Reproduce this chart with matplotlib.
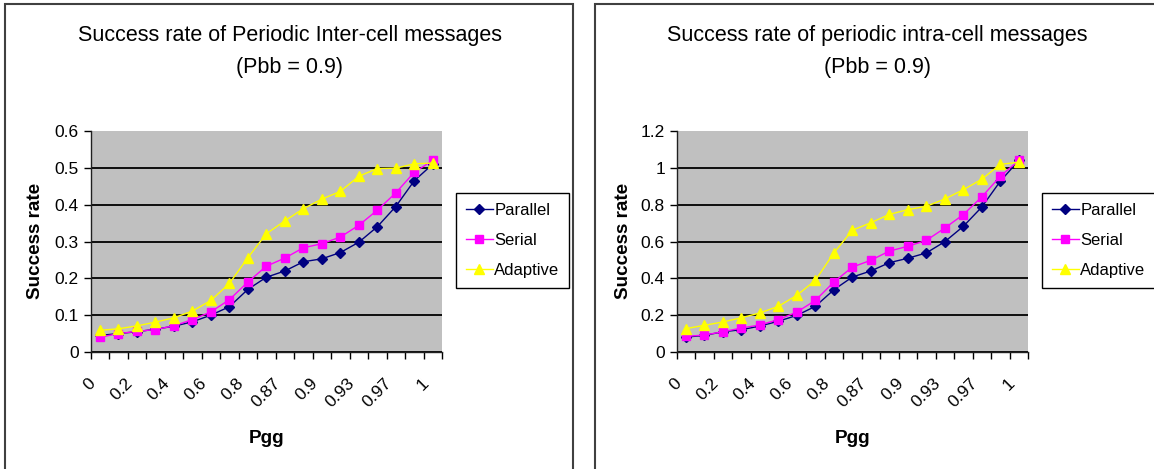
import matplotlib
matplotlib.use('Agg')
import matplotlib.pyplot as plt
import matplotlib.transforms as mtransforms
from matplotlib.patches import Rectangle

plt.rcParams['font.family'] = ['Liberation Sans', 'DejaVu Sans']

# catégories Pgg (19 points, une étiquette sur deux affichée)
pgg = ['0', '0.1', '0.2', '0.3', '0.4', '0.5', '0.6', '0.7', '0.8', '0.85',
       '0.87', '0.88', '0.9', '0.92', '0.93', '0.95', '0.97', '0.99', '1']

# Inter-cell
inter_parallel = [0.045, 0.05, 0.055, 0.062, 0.07, 0.082, 0.1, 0.123, 0.17, 0.203,
                  0.22, 0.245, 0.253, 0.27, 0.298, 0.34, 0.395, 0.465, 0.51]
inter_serial = [0.04, 0.05, 0.056, 0.061, 0.071, 0.088, 0.109, 0.142, 0.19, 0.233,
                0.255, 0.283, 0.294, 0.312, 0.344, 0.385, 0.432, 0.488, 0.52]
inter_adaptive = [0.059, 0.063, 0.071, 0.081, 0.093, 0.111, 0.14, 0.186, 0.256, 0.321,
                  0.356, 0.389, 0.415, 0.436, 0.477, 0.498, 0.499, 0.511, 0.513]

# Intra-cell
intra_parallel = [0.081, 0.09, 0.11, 0.121, 0.141, 0.167, 0.199, 0.248, 0.338, 0.407,
                  0.44, 0.485, 0.509, 0.538, 0.599, 0.682, 0.787, 0.927, 1.04]
intra_serial = [0.085, 0.092, 0.11, 0.13, 0.147, 0.176, 0.217, 0.28, 0.38, 0.461,
                0.498, 0.548, 0.574, 0.606, 0.673, 0.746, 0.842, 0.954, 1.04]
intra_adaptive = [0.127, 0.145, 0.163, 0.186, 0.212, 0.248, 0.308, 0.389, 0.538, 0.661,
                  0.702, 0.747, 0.773, 0.791, 0.831, 0.881, 0.938, 1.019, 1.03]

inter_yticks = [0, 0.1, 0.2, 0.3, 0.4, 0.5, 0.6]
inter_ylabels = ['0', '0.1', '0.2', '0.3', '0.4', '0.5', '0.6']
intra_yticks = [0, 0.2, 0.4, 0.6, 0.8, 1.0, 1.2]
intra_ylabels = ['0', '0.2', '0.4', '0.6', '0.8', '1', '1.2']

series_names = ['Parallel', 'Serial', 'Adaptive']

W, H = 1154, 469
fig = plt.figure(figsize=(W / 100, H / 100), dpi=100)

# cadres des deux graphiques
fig.patches.append(Rectangle((5 / W, -0.05), (573 - 5) / W, 465 / H + 0.05,
                             transform=fig.transFigure, fill=False,
                             edgecolor='#404040', lw=1.5))
fig.patches.append(Rectangle((595 / W, -0.05), 0.5, 465 / H + 0.05,
                             transform=fig.transFigure, fill=False,
                             edgecolor='#404040', lw=1.5))


def draw_chart(x0, x1, title, series, yticks, ylabels, title_x, ylab_x, leg_x):
    ax = fig.add_axes([x0 / W, (H - 352) / H, (x1 - x0) / W, (352 - 131) / H])
    ax.set_facecolor('#C0C0C0')
    x = list(range(len(pgg)))
    ax.plot(x, series[0], color='#000080', marker='D', markersize=5.5, lw=1,
            label=series_names[0])
    ax.plot(x, series[1], color='#FF00FF', marker='s', markersize=6, lw=1,
            label=series_names[1])
    ax.plot(x, series[2], color='#FFFF00', marker='^', markersize=6.5, lw=1,
            label=series_names[2])

    ax.set_xlim(-0.5, len(pgg) - 0.5)
    ax.set_ylim(yticks[0], yticks[-1])
    ax.set_yticks(yticks, labels=ylabels, fontsize=12.5)
    ax.grid(axis='y', color='black', lw=1.3)
    ax.yaxis.get_gridlines()[-1].set_visible(False)
    ax.set_axisbelow(True)

    # graduations entre catégories, étiquettes une sur deux
    ax.set_xticks([i - 0.5 for i in range(len(pgg) + 1)], minor=True)
    ax.set_xticks(x[::2], labels=pgg[::2], fontsize=12.5, rotation=45,
                  ha='right', rotation_mode='anchor')
    ax.tick_params(axis='x', which='major', length=0, pad=17)
    ax.tick_params(axis='x', which='minor', length=5, direction='out', width=1)
    ax.tick_params(axis='y', length=5, direction='out', width=1)
    off = mtransforms.ScaledTranslation(-12 / 100, 0, fig.dpi_scale_trans)
    for lab in ax.get_xticklabels():
        lab.set_transform(lab.get_transform() + off)

    for s in ['top', 'right']:
        ax.spines[s].set_visible(False)
    for s in ['left', 'bottom']:
        ax.spines[s].set_color('#202020')
        ax.spines[s].set_linewidth(1)

    fig.text(title_x / W, 1 - 35 / H, title, ha='center', va='center', fontsize=15.5)
    fig.text(title_x / W, 1 - 67 / H, '(Pbb = 0.9)', ha='center', va='center',
             fontsize=15.5)
    fig.text(ylab_x / W, 1 - 241 / H, 'Success rate', rotation=90, ha='center',
             va='center', fontsize=13.6, fontweight='bold')
    fig.text((x0 + x1) / 2 / W, 1 - 438 / H, 'Pgg', ha='center', va='center',
             fontsize=13.6, fontweight='bold')

    leg = ax.legend(loc='upper left', bbox_to_anchor=(leg_x / W, 1 - 193 / H),
                    bbox_transform=fig.transFigure, borderaxespad=0,
                    fancybox=False, framealpha=1, edgecolor='black',
                    fontsize=12, handlelength=1.6, handletextpad=0.1,
                    labelspacing=0.9, borderpad=0.6)
    leg.get_frame().set_linewidth(1)
    return ax


draw_chart(90.7, 442, 'Success rate of Periodic Inter-cell messages',
           [inter_parallel, inter_serial, inter_adaptive],
           inter_yticks, inter_ylabels, 290, 36, 456)
draw_chart(676.7, 1028, 'Success rate of periodic intra-cell messages',
           [intra_parallel, intra_serial, intra_adaptive],
           intra_yticks, intra_ylabels, 877, 624, 1042)

fig.savefig('out.png', dpi=100)
